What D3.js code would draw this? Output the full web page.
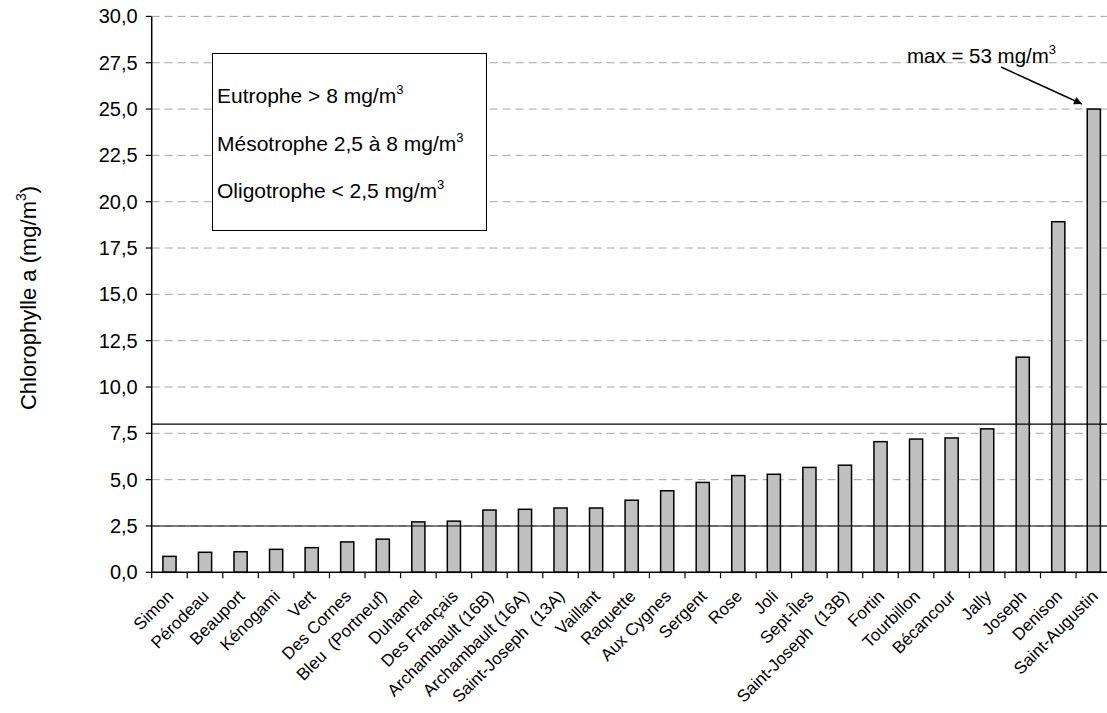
<!DOCTYPE html>
<html><head><meta charset="utf-8">
<script src="https://cdn.jsdelivr.net/npm/d3@7"></script>
<style>
html,body{margin:0;padding:0;background:#fff;}
svg{display:block;font-family:"Liberation Sans",Arial,Helvetica,sans-serif;}
text{white-space:pre;}
</style></head>
<body>
<svg id="chart" width="1107" height="713"></svg>
<script>
const lakes = ["Simon","Pérodeau","Beauport","Kénogami","Vert","Des Cornes","Bleu  (Portneuf)","Duhamel","Des Français","Archambault (16B)","Archambault (16A)","Saint-Joseph  (13A)","Vaillant","Raquette","Aux Cygnes","Sergent","Rose","Joli","Sept-Îles","Saint-Joseph  (13B)","Fortin","Tourbillon","Bécancour","Jally","Joseph","Denison","Saint-Augustin"];
const chloro = [0.86,1.08,1.11,1.24,1.33,1.64,1.79,2.72,2.76,3.36,3.40,3.47,3.47,3.89,4.40,4.85,5.22,5.29,5.66,5.78,7.05,7.19,7.25,7.74,11.61,18.92,25.0];
const yTicks = [0,2.5,5,7.5,10,12.5,15,17.5,20,22.5,25,27.5,30];
const thresholds = [2.5,8];
const legendLines = [["Eutrophe > 8 mg/m","3"],["Mésotrophe 2,5 à 8 mg/m","3"],["Oligotrophe < 2,5 mg/m","3"]];
const maxNote = ["max = 53 mg/m","3"];
const yTitle = ["Chlorophylle a (mg/m","3",")"];

const svg = d3.select("#chart");
const L = 151.7, R = 1111.6, B = 572.3, T = 16.4;
const x = d3.scaleBand().domain(lakes).range([L,R]).paddingInner(0.63).paddingOuter(0.315);
const y = d3.scaleLinear().domain([0,30]).range([B,T]);
const fmt = v => d3.format(".1f")(v).replace(".", ",");

svg.append("defs").append("marker").attr("id","arr").attr("viewBox","0 0 10 10")
  .attr("refX",10).attr("refY",5).attr("markerWidth",9).attr("markerHeight",8)
  .attr("markerUnits","userSpaceOnUse").attr("orient","auto")
  .append("path").attr("d","M0,0L10,5L0,10z").attr("fill","#000");

// grid
svg.append("g").selectAll("line").data(yTicks.filter(v=>v>0)).join("line")
  .attr("x1",L).attr("x2",R).attr("y1",d=>y(d)).attr("y2",d=>y(d))
  .attr("stroke","#a6a6a6").attr("stroke-width",1).attr("stroke-dasharray","8,5");

// legend box
svg.append("rect").attr("x",212.5).attr("y",53.5).attr("width",274).attr("height",177)
  .attr("fill","#fff").attr("stroke","#000").attr("stroke-width",1);
legendLines.forEach((ln,i)=>{
  const t = svg.append("text").attr("x",217).attr("y",103+i*47.5)
    .attr("font-size",21).attr("fill","#000");
  t.append("tspan").text(ln[0]);
  t.append("tspan").attr("font-size",13).attr("dy",-9).text(ln[1]);
});

// bars
svg.append("g").selectAll("rect").data(lakes).join("rect")
  .attr("x",d=>x(d)).attr("width",x.bandwidth())
  .attr("y",(d,i)=>y(chloro[i])).attr("height",(d,i)=>B-y(chloro[i]))
  .attr("fill","#c0c0c0").attr("stroke","#000").attr("stroke-width",1.5);

// threshold lines
svg.append("g").selectAll("line").data(thresholds).join("line")
  .attr("x1",L).attr("x2",R).attr("y1",d=>y(d)).attr("y2",d=>y(d))
  .attr("stroke","#000").attr("stroke-width",1.2);

// y axis
const ya = svg.append("g");
ya.append("line").attr("x1",L).attr("x2",L).attr("y1",T).attr("y2",B).attr("stroke","#000").attr("stroke-width",1.5);
ya.selectAll("line.t").data(yTicks).join("line").attr("class","t")
  .attr("x1",L-6).attr("x2",L).attr("y1",d=>y(d)).attr("y2",d=>y(d)).attr("stroke","#000").attr("stroke-width",1.2);
ya.selectAll("text").data(yTicks).join("text")
  .attr("x",L-14).attr("y",d=>y(d)+7)
  .attr("text-anchor","end").attr("font-size",20).text(fmt);

// x axis
const xa = svg.append("g");
xa.append("line").attr("x1",L).attr("x2",R).attr("y1",B).attr("y2",B).attr("stroke","#000").attr("stroke-width",1.5);
xa.selectAll("line.t").data(d3.range(lakes.length+1)).join("line").attr("class","t")
  .attr("x1",i=>L+i*x.step()).attr("x2",i=>L+i*x.step()).attr("y1",B).attr("y2",B+6)
  .attr("stroke","#000").attr("stroke-width",1.2);
xa.selectAll("text").data(lakes).join("text")
  .attr("transform",d=>`translate(${x(d)+x.bandwidth()/2+5},${B+25}) rotate(-45)`)
  .attr("text-anchor","end").attr("font-size",17).text(d=>d);

// y title
const tt = svg.append("text").attr("transform","translate(36,298) rotate(-90)")
  .attr("text-anchor","middle").attr("font-size",22);
tt.append("tspan").text(yTitle[0]);
tt.append("tspan").attr("font-size",14).attr("dy",-10).text(yTitle[1]);
tt.append("tspan").attr("dy",10).text(yTitle[2]);

// annotation
const an = svg.append("text").attr("x",907).attr("y",63).attr("font-size",20.5);
an.append("tspan").text(maxNote[0]);
an.append("tspan").attr("font-size",13).attr("dy",-9).text(maxNote[1]);
svg.append("line").attr("x1",1001).attr("y1",67).attr("x2",1082).attr("y2",104)
  .attr("stroke","#000").attr("stroke-width",1.5).attr("marker-end","url(#arr)");
</script>
</body></html>
